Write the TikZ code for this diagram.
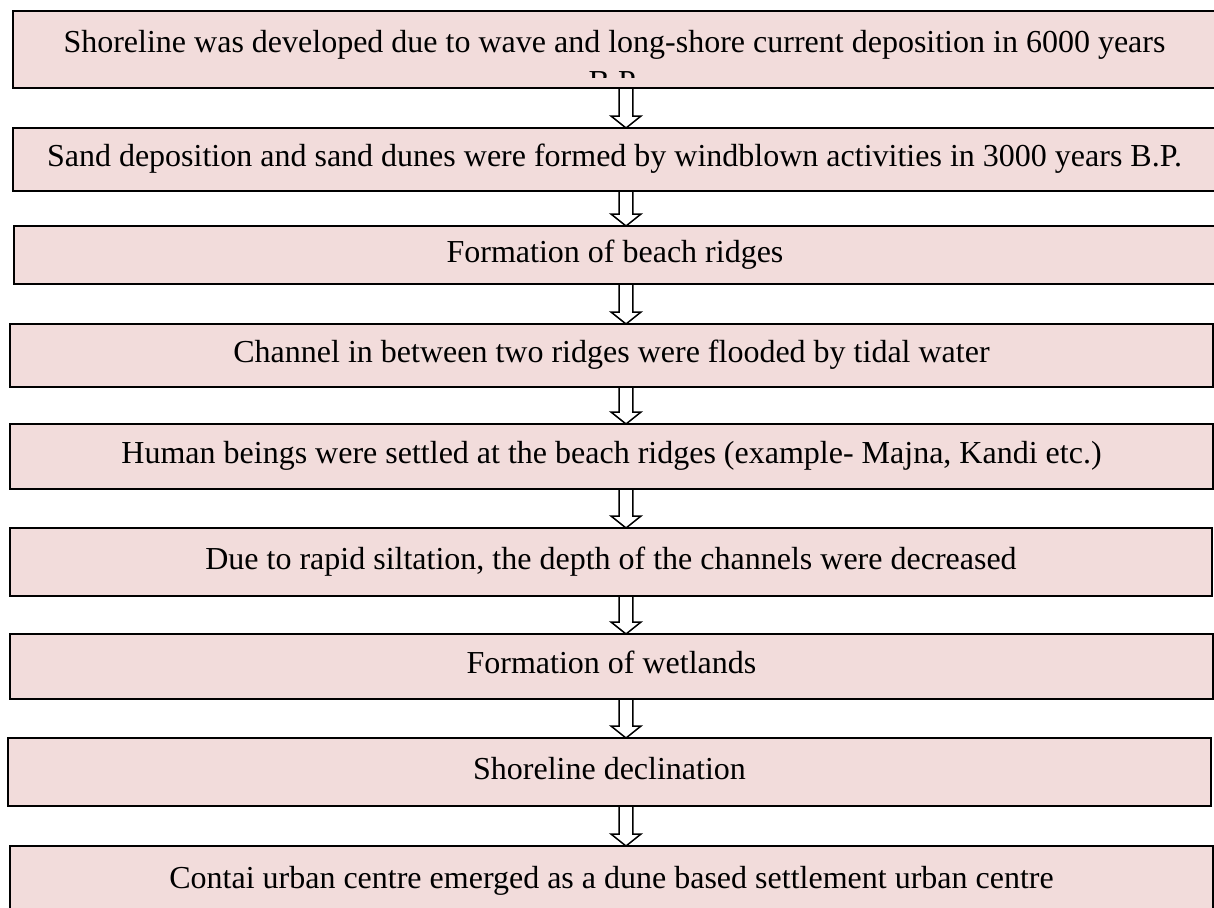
\documentclass[tikz,border=0pt]{standalone}
\usepackage{fontspec}
\setmainfont{Liberation Serif}
\usepackage{tikz}
\usetikzlibrary{positioning,calc}
\definecolor{stepfill}{RGB}{242,220,219}

\tikzset{
  stepbox/.style={rectangle, draw=black, line width=1pt, fill=stepfill,
                  anchor=north west, inner sep=0pt, outer sep=0pt,
                  font=\fontsize{16}{19}\selectfont, text height=0.7em, text depth=0pt},
  steptext/.style={inner sep=0pt, font=\fontsize{16}{19}\selectfont, anchor=base},
  blockarrow/.style={draw=black, line width=0.75pt, fill=white, line join=miter}
}

% hollow block arrow from the bottom of one box to the top of the next
\newcommand{\flowarrow}[2]{%
  \draw[blockarrow] let \p1=(#1.south), \p2=(#2.north) in
    (313pt-3.4pt,\y1) -- (313pt-3.4pt,\y2+6pt) -- (313pt-7.5pt,\y2+6pt) -- (313pt,\y2)
    -- (313pt+7.5pt,\y2+6pt) -- (313pt+3.4pt,\y2+6pt) -- (313pt+3.4pt,\y1) -- cycle;}

\begin{document}
\begin{tikzpicture}[x=0.5pt, y=-0.5pt]
    \useasboundingbox (0,0) rectangle (1214,907);

    \node[stepbox, minimum width=601.5pt, minimum height=38.5pt] (b1) at (13,11) {};
    \begin{scope}
      \clip (13,11) rectangle (1216,77.5);
      \node[steptext] (b1line) at (614.5,52) {Shoreline was developed due to wave and long-shore current deposition in 6000 years};
      \node[steptext] (b1more) at (614.5,92) {B.P.};
    \end{scope}

    \node[stepbox, minimum width=601.5pt, minimum height=31.5pt] (b2) at (13,128)
      {Sand deposition and sand dunes were formed by windblown activities in 3000 years B.P.};
    \node[stepbox, minimum width=601pt, minimum height=29pt] (b3) at (14,226)
      {Formation of beach ridges};
    \node[stepbox, minimum width=601.5pt, minimum height=31.5pt] (b4) at (10,324)
      {Channel in between two ridges were flooded by tidal water};
    \node[stepbox, minimum width=601.5pt, minimum height=32.5pt] (b5) at (10,424)
      {Human beings were settled at the beach ridges (example- Majna, Kandi etc.)};
    \node[stepbox, minimum width=601pt, minimum height=34pt] (b6) at (10,528)
      {Due to rapid siltation, the depth of the channels were decreased};
    \node[stepbox, minimum width=601.5pt, minimum height=32.5pt] (b7) at (10,634)
      {Formation of wetlands};
    \node[stepbox, minimum width=601.5pt, minimum height=34pt] (b8) at (8,738)
      {Shoreline declination};
    \node[stepbox, minimum width=601.5pt, minimum height=35pt] (b9) at (10,846)
      {Contai urban centre emerged as a dune based settlement urban centre};

    \flowarrow{b1}{b2}
    \flowarrow{b2}{b3}
    \flowarrow{b3}{b4}
    \flowarrow{b4}{b5}
    \flowarrow{b5}{b6}
    \flowarrow{b6}{b7}
    \flowarrow{b7}{b8}
    \flowarrow{b8}{b9}
\end{tikzpicture}
\end{document}
